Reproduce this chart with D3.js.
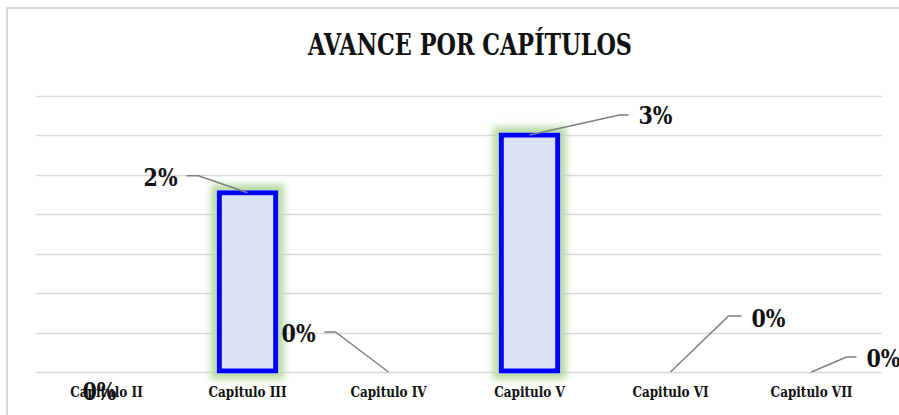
<!DOCTYPE html>
<html>
<head>
<meta charset="utf-8">
<script src="https://cdn.jsdelivr.net/npm/d3@7"></script>
<style>
  html, body { margin: 0; padding: 0; background: #fff; overflow: hidden; }
  svg { display: block; font-family: "DejaVu Serif", "Liberation Serif", serif; }
</style>
</head>
<body>
<svg id="chart" width="899" height="415"></svg>
<script>
// chart data
const capitulos = ["Capitulo II", "Capitulo III", "Capitulo IV", "Capitulo V", "Capitulo VI", "Capitulo VII"];
const avance = [0, 0.0227, 0, 0.030, 0, 0];
const yTicks = [0, 0.005, 0.01, 0.015, 0.02, 0.025, 0.03, 0.035];
const titulo = "AVANCE POR CAPÍTULOS";

// manual data-label placement (leader elbow + label anchor, relative to bar top)
const labelLayout = [
  { leader: false, lx: -7, ly: 28, anchor: "middle" },
  { leader: true, ex: -49, ey: -17, tx: -61, anchor: "end", ly: -7 },
  { leader: true, ex: -53, ey: -40, tx: -64, anchor: "end", ly: -30 },
  { leader: true, ex: 90, ey: -20, tx: 99, anchor: "start", ly: -11 },
  { leader: true, ex: 58, ey: -56, tx: 71, anchor: "start", ly: -45 },
  { leader: true, ex: 35, ey: -15, tx: 45, anchor: "start", ly: -5 }
];

const svg = d3.select("#chart");
const margin = { left: 36, right: 882, top: 95.5, bottom: 372 };

// squeeze a text to a share of its natural width
function squeeze(sel, k) {
  sel.each(function () {
    const w = this.getComputedTextLength();
    d3.select(this).attr("textLength", w * k).attr("lengthAdjust", "spacingAndGlyphs");
  });
}

// chart frame
svg.append("rect")
  .attr("x", 7).attr("y", 8).attr("width", 1000).attr("height", 1000)
  .attr("fill", "#fff").attr("stroke", "#d9d9d9").attr("stroke-width", 2);

const x = d3.scaleBand()
  .domain(capitulos)
  .range([margin.left, margin.right])
  .paddingInner(0.6)
  .paddingOuter(0.3);

const y = d3.scaleLinear()
  .domain([0, 0.035])
  .range([margin.bottom, margin.top]);

// glow filter
const defs = svg.append("defs");
const f = defs.append("filter").attr("id", "glow")
  .attr("filterUnits", "userSpaceOnUse")
  .attr("x", 0).attr("y", 0).attr("width", 899).attr("height", 415);
f.append("feMorphology").attr("in", "SourceAlpha").attr("operator", "dilate").attr("radius", 6).attr("result", "d");
f.append("feGaussianBlur").attr("in", "d").attr("stdDeviation", 3.5).attr("result", "b");
f.append("feFlood").attr("flood-color", "#b9dba3").attr("flood-opacity", 1);
f.append("feComposite").attr("in2", "b").attr("operator", "in").attr("result", "g");
const fm = f.append("feMerge");
fm.append("feMergeNode").attr("in", "g");
fm.append("feMergeNode").attr("in", "SourceGraphic");

// gridlines
svg.append("g")
  .selectAll("line")
  .data(yTicks)
  .join("line")
  .attr("x1", margin.left).attr("x2", margin.right)
  .attr("y1", d => Math.round(y(d)) + 0.5).attr("y2", d => Math.round(y(d)) + 0.5)
  .attr("stroke", "#d9d9d9").attr("stroke-width", 1.5);

// bars
svg.append("g")
  .selectAll("rect")
  .data(capitulos.filter((c, i) => avance[i] > 0))
  .join("rect")
  .attr("x", d => x(d))
  .attr("width", x.bandwidth())
  .attr("y", d => y(avance[capitulos.indexOf(d)]))
  .attr("height", d => y(0) - y(avance[capitulos.indexOf(d)]) - 1)
  .attr("fill", "#dae3f3")
  .attr("stroke", "#0000ff")
  .attr("stroke-width", 5)
  .attr("filter", "url(#glow)");

// category labels
svg.append("g")
  .selectAll("text")
  .data(capitulos)
  .join("text")
  .attr("x", d => x(d) + x.bandwidth() / 2)
  .attr("y", 397)
  .attr("text-anchor", "middle")
  .attr("font-size", 15)
  .attr("font-weight", "bold")
  .attr("fill", "#111")
  .text(d => d)
  .call(squeeze, 0.8);

// data labels with leader lines
const lab = svg.append("g");
capitulos.forEach((c, i) => {
  const cx = x(c) + x.bandwidth() / 2;
  const cy = y(avance[i]);
  const L = labelLayout[i];
  let tx = cx + (L.lx || 0);
  if (L.leader) {
    lab.append("path")
      .attr("d", d3.line()([[cx, cy], [cx + L.ex, cy + L.ey], [cx + L.tx, cy + L.ey]]))
      .attr("fill", "none").attr("stroke", "#7f7f7f").attr("stroke-width", 1.5);
    tx = cx + L.tx + (L.anchor === "end" ? -9 : 10);
  }
  lab.append("text")
    .attr("x", tx)
    .attr("y", cy + L.ly)
    .attr("text-anchor", L.anchor)
    .attr("font-size", 24)
    .attr("font-weight", "bold")
    .attr("fill", "#111")
    .text(d3.format(".0%")(avance[i]))
    .call(squeeze, 0.86);
});

// title
svg.append("text")
  .attr("x", 470).attr("y", 55)
  .attr("text-anchor", "middle")
  .attr("font-size", 30)
  .attr("font-weight", "bold")
  .attr("fill", "#111")
  .attr("textLength", 324)
  .attr("lengthAdjust", "spacingAndGlyphs")
  .text(titulo);
</script>
</body>
</html>
